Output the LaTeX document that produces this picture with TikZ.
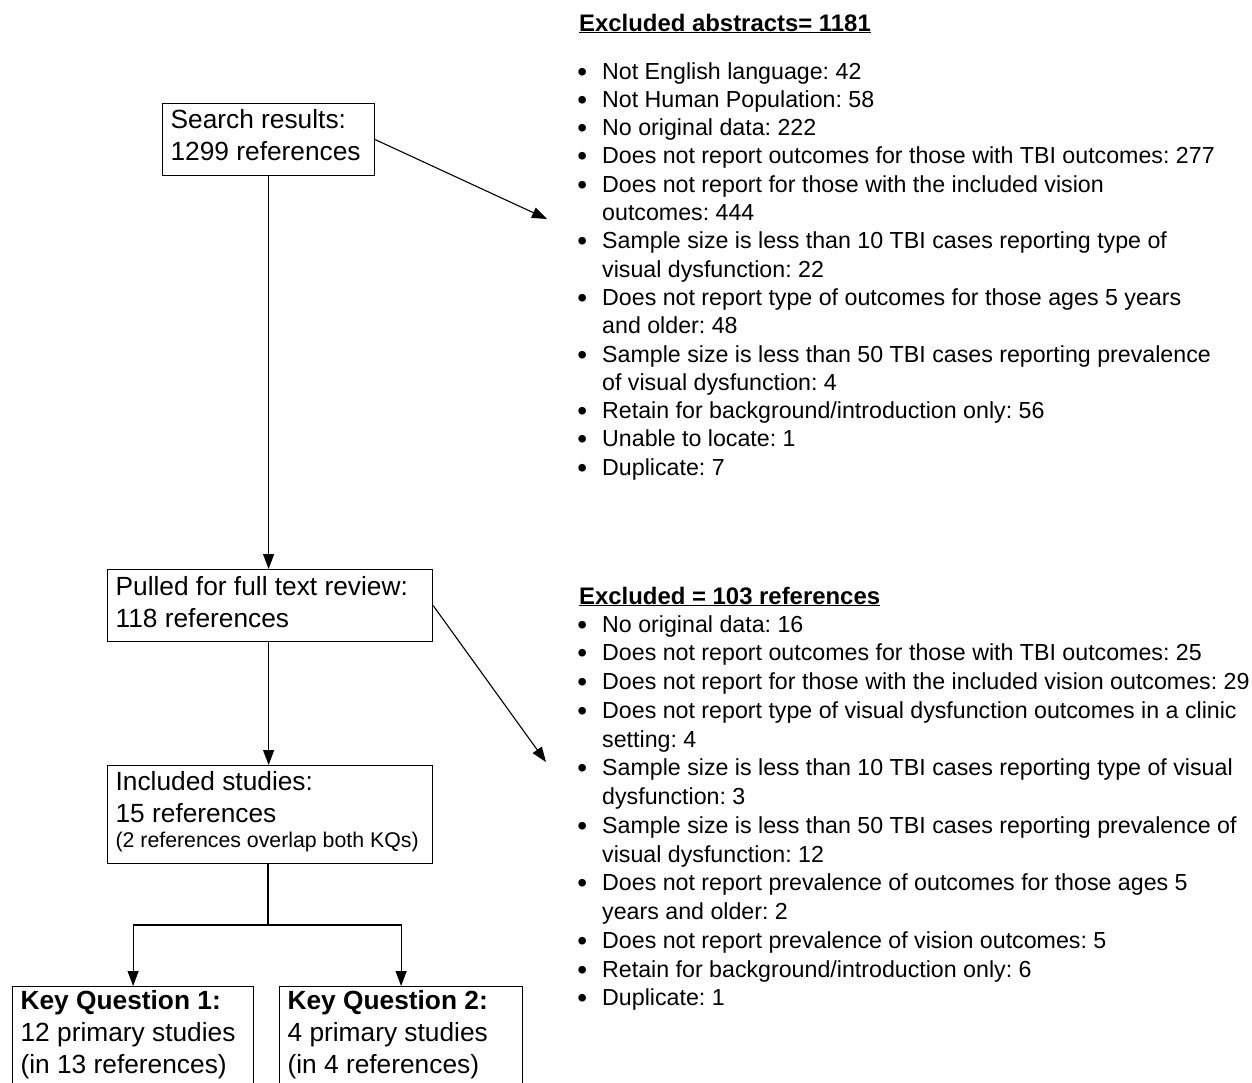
\documentclass[tikz,border=0pt]{standalone}
\usepackage{fontspec}
\setmainfont{Liberation Sans}
\usetikzlibrary{arrows.meta}
\frenchspacing

\tikzset{
  refbox/.style={draw, line width=1.2pt, anchor=north west, align=left,
    inner xsep=8pt, inner ysep=0pt, font=\fontsize{26.3}{32}\selectfont,
    execute at begin node={\spaceskip=0pt\xspaceskip=0pt\relax}},
  flowarrow/.style={line width=1.1pt, -{Triangle[length=15pt,width=11pt]}},
  listline/.style={anchor=base west, inner sep=0pt, font=\fontsize{23.2}{28}\selectfont},
  listhead/.style={anchor=base west, inner sep=0pt, font=\bfseries\fontsize{23.9}{28}\selectfont}
}
\newcommand{\bul}{\llap{\raisebox{-2pt}{\fontsize{28}{28}\selectfont\textbullet}\hspace{15pt}}}

\begin{document}
\begin{tikzpicture}[x=1pt, y=-1pt]
    \useasboundingbox (0,0) rectangle (1252,1082);
    \clip (0,0) rectangle (1252,1082);
    % Draw boxes of the flow
    \node[refbox, text width=196pt, text height=24.7pt, text depth=47.3pt] (search) at (162,103)
        {Search results:\\1299 references};
    \node[refbox, text width=309pt, text height=26pt, text depth=46pt] (pulled) at (107,569)
        {Pulled for full text review:\\118 references};
    \node[refbox, text width=309pt, text height=25pt, text depth=73pt] (included) at (107,765)
        {Included studies:\\15 references\\[-7pt]\mbox{\fontsize{21.3}{25}\selectfont (2 references overlap both KQs)}};
    \node[refbox, text width=225pt, text height=23pt, text depth=91pt] (kq1) at (12,986)
        {\textbf{Key Question 1:}\\12 primary studies\\(in 13 references)};
    \node[refbox, text width=227pt, text height=23pt, text depth=91pt] (kq2) at (279,986)
        {\textbf{Key Question 2:}\\4 primary studies\\(in 4 references)};
    % Free ends of the exclusion arrows
    \coordinate (exabs) at (547,219);
    \coordinate (exfull) at (546,762);
    \coordinate (split) at (268,925);
    % Draw connectors
    \draw[flowarrow] (search.south) -- (search.south |- pulled.north);
    \draw[flowarrow] (search.east) -- (exabs);
    \draw[flowarrow] (pulled.east) -- (exfull);
    \draw[flowarrow] (search.south |- pulled.south) -- (search.south |- included.north);
    \draw[line width=1.1pt] (split |- included.south) -- (split);
    \draw[flowarrow] (split) -| (kq1.north);
    \draw[flowarrow] (split) -| (kq2.north);
    % Excluded abstracts
    \node[listhead] (abshead) at (579,31) {\underline{Excluded abstracts= 1181}};
    \foreach \txt [count=\i from 0] in {
        \bul Not English language: 42,
        \bul Not Human Population: 58,
        \bul No original data: 222,
        \bul Does not report outcomes for those with TBI outcomes: 277,
        \bul Does not report for those with the included vision,
        outcomes: 444,
        \bul Sample size is less than 10 TBI cases reporting type of,
        visual dysfunction: 22,
        \bul Does not report type of outcomes for those ages 5 years,
        and older: 48,
        \bul Sample size is less than 50 TBI cases reporting prevalence,
        of visual dysfunction: 4,
        \bul Retain for background/introduction only: 56,
        \bul Unable to locate: 1,
        \bul Duplicate: 7}
        \node[listline] (abs\i) at (602, {79+28.3*\i}) {\txt};
    % Excluded references
    \node[listhead] (fullhead) at (579,604) {\underline{Excluded = 103 references}};
    \foreach \txt [count=\i from 0] in {
        \bul No original data: 16,
        \bul Does not report outcomes for those with TBI outcomes: 25,
        \bul Does not report for those with the included vision outcomes: 29,
        \bul Does not report type of visual dysfunction outcomes in a clinic,
        setting: 4,
        \bul Sample size is less than 10 TBI cases reporting type of visual,
        dysfunction: 3,
        \bul Sample size is less than 50 TBI cases reporting prevalence of,
        visual dysfunction: 12,
        \bul Does not report prevalence of outcomes for those ages 5,
        years and older: 2,
        \bul Does not report prevalence of vision outcomes: 5,
        \bul Retain for background/introduction only: 6,
        \bul Duplicate: 1}
        \node[listline] (full\i) at (602, {632+28.75*\i}) {\txt};
\end{tikzpicture}
\end{document}
